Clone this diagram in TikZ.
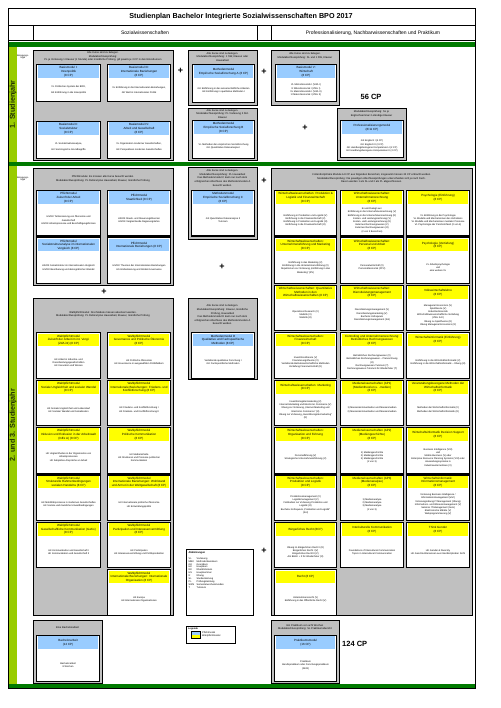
\documentclass[tikz,border=0pt]{standalone}
\usepackage{fontspec}
\setmainfont{Liberation Sans}
\usetikzlibrary{calc}
\definecolor{hblue}{HTML}{99CCFF}
\definecolor{hyel}{HTML}{FFFF00}
\definecolor{gfill}{HTML}{C0C0C0}
\definecolor{dgreen}{HTML}{007A00}
\definecolor{limeg}{HTML}{99CC00}
\definecolor{stxt}{HTML}{1E2E00}
\newcommand\fsz[2]{\fontsize{#1pt}{#2pt}\selectfont}
\tikzset{
 grayblk/.style={draw=black,fill=gfill,line width=0.7pt,inner sep=0pt},
 whitebox/.style={draw=black,fill=white,line width=1.1pt,inner sep=0pt},
 hdr/.style={inner sep=0pt,minimum height=12.5pt,align=center,font=\fsz{3.0}{3.6}},
 bodytxt/.style={inner sep=0pt,align=center,font=\fsz{2.4}{3.2}},
 gtxt/.style={inner sep=0pt,align=center,font=\fsz{2.6}{3.6}},
 plussign/.style={font=\bfseries\fsz{9}{9},inner sep=0pt},
 cptxt/.style={font=\bfseries\fsz{7.5}{8},inner sep=0pt},
 sjtxt/.style={rotate=90,font=\bfseries\fsz{7.2}{8},text=stxt,inner sep=0pt},
}
% #1 name, #2 x, #3 y, #4 w, #5 h, #6 colour, #7 header, #8 body
\newcommand\modbox[8]{%
 \node[whitebox,minimum width=#4pt,minimum height=#5pt,anchor=north west] (#1) at (#2,#3) {};
 \node[hdr,fill=#6,minimum width=#4pt-2.4pt,anchor=north] (#1h) at ([yshift=-1.2pt]#1.north) {#7};
 \node[bodytxt] (#1b) at ($(#1h.south)!0.5!(#1.south)$) {#8};
}
\newcommand\gblk[5]{\node[grayblk,minimum width=#4pt,minimum height=#5pt,anchor=north west] (#1) at (#2,#3) {};}
\begin{document}
\begin{tikzpicture}[x=1pt,y=-1pt]
\useasboundingbox (0,0) rectangle (500,708);
\fill[white] (0,0) rectangle (500,708);
% frame and bars
\fill[dgreen] (8,42.5) rectangle (475,47);
\fill[dgreen] (8,162) rectangle (475,166);
\fill[dgreen] (8,684) rectangle (475,688);
\fill[limeg] (9,47) rectangle (17,162);
\fill[limeg] (9,166) rectangle (17,684);
\draw[line width=0.8pt] (8,8) rectangle (475,688);
\draw[line width=0.8pt] (8,25) -- (475,25);
\draw[line width=0.8pt] (8,40) -- (475,40);
\draw[line width=0.8pt] (33,25) -- (33,40);
\draw[line width=0.8pt] (257,25) -- (257,40);
\draw[line width=0.8pt] (271,25) -- (271,40);
\node[font=\bfseries\fsz{7.2}{8},inner sep=0pt] (title) at (241,16.5) {Studienplan Bachelor Integrierte Sozialwissenschaften BPO 2017};
\node[font=\fsz{5}{6},inner sep=0pt] (sowi) at (145,33) {Sozialwissenschaften};
\node[font=\fsz{5}{6},inner sep=0pt] (prof) at (373,33) {Professionalisierung, Nachbarwissenschaften und Praktikum};
\node[sjtxt] (sj1) at (13,104.5) {1. Studienjahr};
\node[sjtxt] (sj2) at (13,425) {2. und 3. Studienjahr};
\node[gtxt,font=\fsz{2.3}{2.8}] (bl1) at (23,57) {Belegungs-\\logik};
\node[gtxt,font=\fsz{2.3}{2.8}] (bl2) at (23,179) {Belegungs-\\logik};
% ===== Year 1 =====
\gblk{ga}{33}{50}{140}{110}
\node[gtxt] (gah) at (103,56.5) {Alle Kurse sind zu belegen.\\Modulabschlussprüfung:\\PL je Vorlesung 1 Klausur (1 Stunde) oder mündliche Prüfung, gilt jeweils je 3 CP in den Einzelkursen};
\modbox{ba1}{36}{64}{64}{37}{hblue}{Basismodul I:\\Innenpolitik\\(8 CP)}{VL Politisches System der BRD,\\[2.5pt]GK Einführung in die Innenpolitik}
\modbox{ba3}{107}{64}{63}{37}{hblue}{Basismodul III:\\Internationale Beziehungen\\(8 CP)}{VL Einführung in die Internationalen Beziehungen,\\[2.5pt]GK Welt in internationaler Politik}
\modbox{ba2}{36}{121}{64}{37}{hblue}{Basismodul II:\\Sozialstruktur\\(8 CP)}{VL Sozialstrukturanalyse,\\[2.5pt]GK Soziologische Grundbegriffe}
\modbox{ba4}{107}{121}{63}{37}{hblue}{Basismodul IV:\\Arbeit und Gesellschaft\\(8 CP)}{VL Organisation moderner Gesellschaften,\\[2.5pt]GK Perspektiven moderner Gesellschaften}
\gblk{gb}{188}{50}{69}{55}
\node[gtxt] (gbh) at (222.5,57) {Alle Kurse sind zu belegen.\\Modulabschlussprüfung: 1 SW, Klausur oder\\Hausarbeit};
\modbox{mA}{192}{64}{62}{38}{hblue}{Methodenmodul\\Empirische Sozialforschung A (8 CP)}{GK Einführung in das wissenschaftliche Arbeiten\\GK Einführung in qualitative Methoden I}
\gblk{gc}{188}{108}{69}{52}
\node[gtxt] (gch) at (222.5,114) {Alle Kurse sind zu belegen.\\Modulabschlussprüfung: PL Vorlesung 2 Std.\\Klausur};
\modbox{mB}{192}{120}{62}{38}{hblue}{Methodenmodul\\Empirische Sozialforschung B\\(8 CP)}{VL Methoden der empirischen Sozialforschung\\GK Quantitative Datenanalyse I}
\gblk{gd}{271}{50}{68}{55}
\node[gtxt] (gdh) at (305,56) {Alle Kurse sind zu belegen.\\Modulabschlussprüfung: SL und 1 SW, Klausur};
\modbox{ba5}{275}{64}{61}{37}{hblue}{Basismodul V:\\Wirtschaft\\(8 CP)}{VL Mikroökonomik I (VWL I)\\Ü Mikroökonomik I (VWL I)\\VL Makroökonomik I (VWL II)\\Ü Makroökonomik I (VWL II)}
\gblk{ge}{337}{108}{69}{52}
\node[gtxt] (geh) at (371.5,114) {Modulabschlussprüfung: SL je\\Englischseminar 2-stündige Klausur};
\modbox{pro}{340}{120}{63}{37}{hblue}{Professionalisierungsmodul\\(8/11 CP)}{GK Englisch I (3 CP)\\GK Englisch II (3 CP)\\GK Handlungsbezogene Kompetenzen I (2 CP)\\GK Handlungsbezogene Kompetenzen II (2 CP)}
\node[cptxt] (cp56) at (371,97) {56 CP};
\node[plussign] (p1) at (180.5,71) {+};
\node[plussign] (p2) at (264,72) {+};
\node[plussign] (p3) at (305,128) {+};
% ===== Years 2 and 3 =====
\gblk{gp}{33}{168}{140}{117}
\node[gtxt] (gph) at (103,179) {Pflichtmodule: Es müssen alle Kurse besucht werden.\\Modulabschlussprüfung: PL Referat plus Hausarbeit, Klausur, mündliche Prüfung};
\modbox{pf1}{36}{190}{64}{45.5}{hblue}{Pflichtmodul\\Zukunft der Arbeit\\(8 CP)}{HS/ÜK Tertiarisierung von Ökonomie und\\Gesellschaft\\HS/ÜK Arbeitsprozesse und Beschäftigungsformen}
\modbox{pf2}{107}{190}{63}{45.5}{hblue}{Pflichtmodul\\Staatlichkeit (8 CP)}{HS/ÜK Staats- und Steuerungstheorien\\HS/ÜK Vergleichende Regierungslehre}
\modbox{pf3}{36}{237.4}{64}{45.5}{hblue}{Pflichtmodul\\Sozialstrukturanalyse im internationalen\\Vergleich (8 CP)}{HS/ÜK Sozialstruktur im internationalen Vergleich\\HS/ÜK Bevölkerung und demografischer Wandel}
\modbox{pf4}{107}{237.4}{63}{45.5}{hblue}{Pflichtmodul\\Internationale Beziehungen (8 CP)}{HS/ÜK Theorien der Internationalen Beziehungen\\HS Globalisierung und Global Governance}
\node[plussign] (p4) at (104,292) {+};
\gblk{gw}{33}{298}{140}{317}
\node[gtxt] (gwh) at (103,314.5) {Wahlpflichtmodul: Drei Module müssen absolviert werden.\\Modulabschlussprüfung: PL Referat plus Hausarbeit, Klausur, mündliche Prüfung};
\modbox{w1}{36}{332.2}{64}{45.5}{hyel}{Wahlpflichtmodul\\Zukunft der Arbeit im int. Vergl.\\(ZdA int) (8 CP)}{HK Arbeit in Industrie- und\\Dienstleistungsgesellschaften\\HK Innovation und Wissen}
\modbox{w2}{107}{332.2}{63}{45.5}{hyel}{Wahlpflichtmodul\\Governance und Politische Ökonomie\\(8 CP)}{HK Politische Ökonomie\\HK Governance in ausgewählten Politikfeldern}
\modbox{w3}{36}{379.6}{64}{45.5}{hyel}{Wahlpflichtmodul\\Soziale Ungleichheit und sozialer Wandel\\(8 CP)}{HK Soziale Ungleichheit und Lebenslauf\\HK Sozialer Wandel und Sozialisation}
\modbox{w4}{107}{379.6}{63}{45.5}{hyel}{Wahlpflichtmodul\\Internationale Beziehungen: Friedens- und\\Konfliktforschung (8 CP)}{HK Friedens- und Konfliktforschung I\\HK Friedens- und Konfliktforschung II}
\modbox{w5}{36}{427}{64}{45.5}{hyel}{Wahlpflichtmodul\\Inklusion und Exklusion in der Arbeitswelt\\(InEx A) (8 CP)}{HK Ungleichheiten in der Organisation von\\Arbeitsprozessen\\HK Subjektive Ansprüche an Arbeit}
\modbox{w6}{107}{427}{63}{45.5}{hyel}{Wahlpflichtmodul\\Politische Kommunikation\\(8 CP)}{HK Medieninhalte\\HK Strukturen und Prozesse politischer\\Kommunikation}
\modbox{w7}{36}{474.4}{64}{45.5}{hyel}{Wahlpflichtmodul\\Strukturelle Rahmenbedingungen\\sozialen Handelns (8 CP)}{HK Mobilitätsprozesse in modernen Gesellschaften\\HK Soziale und räumliche Umweltbedingungen}
\modbox{w8}{107}{474.4}{63}{45.5}{hyel}{Wahlpflichtmodul\\Internationale Beziehungen: Wohlstand\\und Armut in der Weltgesellschaft (8 CP)}{HK Internationale politische Ökonomie\\HK Entwicklungspolitik}
\modbox{w9}{36}{521.8}{64}{45.5}{hyel}{Wahlpflichtmodul\\Gesellschaftliche Kommunikation (GeKo)\\(8 CP)}{HK Kommunikation und Gesellschaft I\\HK Kommunikation und Gesellschaft II}
\modbox{w10}{107}{521.8}{63}{45.5}{hyel}{Wahlpflichtmodul\\Partizipation und Interessenvermittlung\\(8 CP)}{HK Partizipation\\HK Interessenvermittlung und Politikproduktion}
\modbox{w11}{107}{569.2}{63}{45.5}{hyel}{Wahlpflichtmodul\\Internationale Beziehungen: Internationale\\Organisation (8 CP)}{HK Europa\\HK Internationale Organisationen}
\gblk{gba}{33}{620}{69}{63}
\node[gtxt] (gbah) at (67.5,627.5) {Eine Bachelorarbeit};
\modbox{bat}{36}{635}{63}{45.5}{hblue}{Bachelorarbeit\\(12 CP)}{Bachelorarbeit\\8 Wochen}
% middle column
\gblk{gm1}{188}{167}{69}{72}
\node[gtxt] (gm1h) at (222.5,178) {Alle Kurse sind zu belegen.\\Modulabschlussprüfung: PL Hausarbeit\\Das Methodenmodul C kann nur nach dem\\erfolgreichen Abschluss des Methodenmoduls A\\besucht werden.};
\modbox{mC}{191}{190}{63}{45.5}{hblue}{Methodenmodul\\Empirische Sozialforschung C\\(8 CP)}{GK Quantitative Datenanalyse II\\Tutorium}
\node[plussign] (p5) at (222,267) {+};
\gblk{gm2}{188}{298}{69}{81}
\node[gtxt] (gm2h) at (222.5,315) {Alle Kurse sind zu belegen.\\Modulabschlussprüfung: Klausur, mündliche\\Prüfung, Hausarbeit\\Das Methodenmodul D kann nur nach dem\\erfolgreichen Abschluss des Methodenmoduls A\\besucht werden.};
\modbox{mD}{191}{332.2}{63}{45.5}{hblue}{Methodenmodul D\\Qualitative und Fachspezifische\\Methoden (8 CP)}{Vertiefende qualitative Forschung I\\GK Fachspezifische Methoden}
\node[plussign] (p6) at (264,181) {+};
\node[plussign] (p7) at (264,551) {+};
% abbreviations
\node[draw=black,line width=0.6pt,fill=white,minimum width=67pt,minimum height=66pt,anchor=north west,inner sep=0pt] (abk) at (186,549) {};
\node[font=\bfseries\fsz{2.6}{3},anchor=west,inner sep=0pt] (abkt) at (188.5,553) {Abkürzungen};
\foreach \a/\b [count=\i] in {VL/Vorlesung,MBK/Methodenbasiskurs,GK/Grundkurs,HK/Hauptkurs,ÜK/Überblickskurs,HS/Hauptseminar,Ü/Übung,SL/Studienleistung,PL/Prüfungsleistung,SWS/Semesterwochenstunden,T/Tutorium}{
 \node[font=\fsz{2.4}{3},anchor=west,inner sep=0pt] (abka\i) at (188.5,555.5+\i*2.9) {\a};
 \node[font=\fsz{2.4}{3},anchor=west,inner sep=0pt] (abkb\i) at (196.5,555.5+\i*2.9) {\b};
}
\node[draw=black,line width=0.6pt,fill=white,minimum width=49pt,minimum height=17pt,anchor=north west,inner sep=0pt] (leg) at (186,626) {};
\node[font=\bfseries\fsz{2.4}{3},anchor=west,inner sep=0pt] (legt) at (188,628.5) {Legende};
\node[fill=hblue,minimum width=9pt,minimum height=3.5pt,anchor=north west,inner sep=0pt] (legb) at (191,631) {};
\node[fill=hyel,minimum width=9pt,minimum height=3.5pt,anchor=north west,inner sep=0pt] (legy) at (191,634.5) {};
\draw[line width=0.5pt] (legb.north west) rectangle (legy.south east);
\node[font=\fsz{2.4}{3},anchor=west,inner sep=0pt] (legbt) at (202,632.7) {Pflichtmodul};
\node[font=\fsz{2.4}{3},anchor=west,inner sep=0pt] (legyt) at (202,636.2) {Wahlpflichtmodul};
% right block
\gblk{gr}{271}{168}{201}{447}
\node[gtxt] (grh) at (371.5,178.5) {3 interdisziplinäre Module à 8 CP aus folgenden Bereichen; insgesamt müssen 24 CP erbracht werden.\\Modulabschlussprüfung: Die jeweiligen Abschlussprüfungen unterscheiden sich je nach Fach.\\Davon werden 1 als SL und 2 als PL abgeschlossen.};
% col 1
\modbox{ra0}{274}{190}{62}{45.5}{hyel}{Wirtschaftswissenschaften: Produktion \&\\Logistik und Finanzwirtschaft\\(8 CP)}{Einführung in Produktion und Logistik (V)\\Einführung in die Finanzwirtschaft (V)\\Einführung in Produktion und Logistik (Ü)\\Einführung in die Finanzwirtschaft (Ü)}
\modbox{ra1}{274}{237.4}{62}{45.5}{hyel}{Wirtschaftswissenschaften:\\Unternehmensführung und Marketing\\(8 CP)}{Einführung in das Marketing (V)\\Einführung in die Unternehmensführung (V)\\Repetitorium zur Vorlesung „Einführung in das\\Marketing“ (RV)}
\modbox{ra2}{274}{284.8}{62}{45.5}{hyel}{Wirtschaftswissenschaften: Quantitative\\Methoden in den\\Wirtschaftswissenschaften (8 CP)}{Operations Research (V)\\Statistik (V)\\Statistik (Ü)}
\modbox{ra3}{274}{332.2}{62}{45.5}{hyel}{Wirtschaftswissenschaften:\\Finanzwirtschaft\\(8 CP)}{Investitionstheorie (V)\\Finanzierungstheorie (V)\\Vertiefende Betriebswirtschaftliche Methoden\\Vertiefung Finanzwirtschaft (Ü)}
\modbox{ra4}{274}{379.6}{62}{45.5}{hyel}{Wirtschaftswissenschaften: Marketing\\(8 CP)}{Investitionsgütermarketing (V)\\Internet-Marketing und Electronic Commerce (V)\\Übung zur Vorlesung „Internet-Marketing und\\Electronic Commerce“ (Ü)\\Übung zur Vorlesung „Investitionsgütermarketing“\\(Ü)}
\modbox{ra5}{274}{427}{62}{45.5}{hyel}{Wirtschaftswissenschaften:\\Organisation und Führung\\(8 CP)}{Personalführung (V)\\Strategische Unternehmensführung (V)}
\modbox{ra6}{274}{474.4}{62}{45.5}{hyel}{Wirtschaftswissenschaften:\\Produktion und Logistik\\(8 CP)}{Produktionsmanagement (V)\\Logistikmanagement (V)\\Fallstudien zur Vorlesung Produktion und\\Logistik (Ü)\\Bachelor-Kolloquium „Produktion und Logistik“\\(Kol)}
\modbox{ra7}{274}{521.8}{62}{45.5}{hyel}{Bürgerliches Recht (8CP)}{Übung im Bürgerlichen Recht I (Ü)\\Bürgerliches Recht I (V)\\Bürgerliches Recht II (V)\\AG BGB I + II für Wiederholer (Ü)}
\modbox{ra8}{274}{569.2}{62}{45.5}{hyel}{Recht (8 CP)}{Unternehmensrecht (V)\\Einführung in das Öffentliche Recht (V)}
% col 2
\modbox{rb0}{340}{190}{63}{45.5}{hyel}{Wirtschaftswissenschaften:\\Unternehmensrechnung\\(8 CP)}{Es wird belegt aus:\\Einführung in die Unternehmensrechnung (V)\\Einführung in die Unternehmensrechnung (Ü)\\Kosten- und Leistungsrechnung (V)\\Kosten- und Leistungsrechnung (Ü)\\Externes Rechnungswesen (V)\\Externes Rechnungswesen (Ü)\\(2 von 3 Bereichen)}
\modbox{rb1}{340}{237.4}{63}{45.5}{hyel}{Wirtschaftswissenschaften:\\Personal und Arbeit\\(8 CP)}{Personalwirtschaft (V)\\Personalökonomik (PPV)}
\modbox{rb2}{340}{284.8}{63}{45.5}{hyel}{Wirtschaftswissenschaften:\\Dienstleistungsmanagement\\(8 CP)}{Dienstleistungsmanagement (V)\\Dienstleistungsmarketing (V)\\Bachelor-Kolloquium\\Dienstleistungsmanagement (Kol)}
\modbox{rb3}{340}{332.2}{63}{45.5}{hyel}{Controlling und Unternehmensrechnung:\\Betriebliches Rechnungswesen\\(8 CP)}{Betriebliches Rechnungswesen (V)\\Betriebliches Rechnungswesen – Planrechnung\\(Ü)\\Rechnungswesen-Tutorium (T)\\Rechnungswesen-Tutorium für Wiederholer (T)}
\modbox{rb4}{340}{379.6}{63}{45.5}{hyel}{Medienwissenschaften (AP1)\\(Medientheorien u. -medien)\\(8 CP)}{1) Massenkommunikation und Massenmedien\\2) Massenkommunikation und Massenmedien}
\modbox{rb5}{340}{427}{63}{45.5}{hyel}{Medienwissenschaften (AP2)\\(Mediengeschichte)\\(8 CP)}{1) Mediengeschichte\\2) Mediengeschichte\\3) Mediengeschichte\\(2 von 3)}
\modbox{rb6}{340}{474.4}{63}{45.5}{hyel}{Medienwissenschaften (AP3)\\(Medienanalyse)\\(8 CP)}{1) Medienanalyse\\2) Medienanalyse\\3) Medienanalyse\\(2 von 3)}
\modbox{rb7}{340}{521.8}{63}{45.5}{hyel}{Interkulturelle Kommunikation\\(8 CP)}{Foundations of Intercultural Communication\\Topics in Intercultural Communication}
% col 3
\modbox{rc0}{406}{190}{63}{45.5}{hyel}{Psychologie (Einführung)\\(8 CP)}{VL Einführung in die Psychologie\\VL Modelle und Mechanismen des Verhaltens\\VL Modelle und Mechanismen mentaler Prozesse\\VL Psychologie der Persönlichkeit (2 von 4)}
\modbox{rc1}{406}{237.4}{63}{45.5}{hyel}{Psychologie (Vertiefung)\\(8 CP)}{VL Arbeitspsychologie\\und\\eine weitere VL}
\modbox{rc2}{406}{284.8}{63}{45.5}{hyel}{Volkswirtschaftslehre\\(8 CP)}{Managerial Economics (V)\\Spieltheorie (V)\\Industrieökonomik\\Wirtschaftswissenschaftliche Vertiefung\\(VWL 2xV)\\Übung zu Spieltheorie (Ü)\\Übung Managerial Economics (Ü)}
\modbox{rc3}{406}{332.2}{63}{45.5}{hyel}{Wirtschaftsinformatik (Einführung)\\(8 CP)}{Einführung in die Wirtschaftsinformatik (V)\\Einführung in die Wirtschaftsinformatik – Übung (Ü)}
\modbox{rc4}{406}{379.6}{63}{45.5}{hyel}{Veranstaltungsbezogene Methoden der\\Wirtschaftsinformatik\\(8 CP)}{Methoden der Wirtschaftsinformatik (V)\\Methoden der Wirtschaftsinformatik (Ü)}
\modbox{rc5}{406}{427}{63}{45.5}{hyel}{Wirtschaftsinformatik Decision Support\\(8 CP)}{Business Intelligence (V/Ü)\\und\\Mobile Business (V) oder\\Enterprise Resource Planning Systems (V/Ü) oder\\Anwendungssysteme in\\Industrieunternehmen (V)}
\modbox{rc6}{406}{474.4}{63}{45.5}{hyel}{Wirtschaftsinformatik:\\Informationsmanagement\\(8 CP)}{Vorlesung Business Intelligence /\\Informationsmanagement (Vorl)\\Vorlesungsübung IT-Management (Übung)\\Informations- und Wissensmanagement (V)\\Seminar IT-Management (Sem)\\Elektronische Märkte (V)\\Webprogrammierung (V)}
\modbox{rc7}{406}{521.8}{63}{45.5}{hyel}{Think Gender\\(8 CP)}{HK Gender \& Diversity\\HK Geschlechterwissen aus interdisziplinärer Sicht}
% Praktikum
\gblk{gpr}{271}{620}{68}{63}
\node[gtxt] (gprh) at (305,627.5) {Ein Praktikum von acht Wochen\\Modulabschlussprüfung: SL Praktikumsbericht};
\modbox{prk}{274}{635}{62}{45.5}{hblue}{Praktikumsmodul\\(16 CP)}{Praktikum\\Berufspraktikum oder Forschungspraktikum\\(240h)}
\node[cptxt,anchor=west] (cp124) at (342,644) {124 CP};
\end{tikzpicture}
\end{document}
